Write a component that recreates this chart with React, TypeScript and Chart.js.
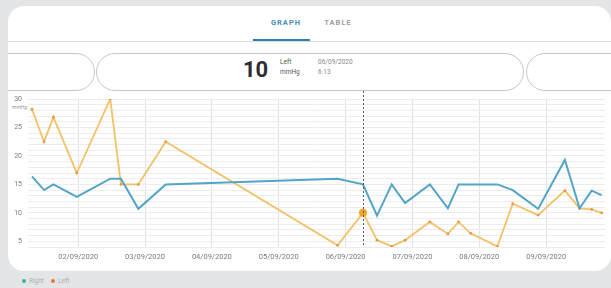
import React, { useEffect, useRef } from "react";
import { Chart, registerables } from "chart.js";

Chart.register(...registerables);

// Reading times, in days of September 2020
const readingDays = [
  1.31, 1.49, 1.63, 1.98, 2.48, 2.64, 2.9, 3.31, 5.88, 6.26, 6.47, 6.69,
  6.89, 7.26, 7.53, 7.69, 7.87, 8.27, 8.5, 8.88, 9.28, 9.5, 9.68, 9.83,
];
const rightValues = [
  16.4, 14, 15, 12.8, 16, 16, 10.7, 15, 16, 15, 9.5, 15, 11.7, 15, 10.8, 15,
  15, 15, 14, 10.7, 19.3, 10.8, 13.9, 13.1,
];
const leftValues = [
  28.2, 22.5, 26.8, 17, 30, 15, 15, 22.5, 4.3, 10, 5.2, 4.1, 5.2, 8.4, 6.3,
  8.4, 6.4, 4.1, 11.6, 9.6, 13.9, 10.8, 10.6, 10,
];
const tickDays = [2, 3, 4, 5, 6, 7, 8, 9];
const tickLabels = [
  "02/09/2020",
  "03/09/2020",
  "04/09/2020",
  "05/09/2020",
  "06/09/2020",
  "07/09/2020",
  "08/09/2020",
  "09/09/2020",
];
const selectedIndex = 9;

const FONT = "Roboto, 'Noto Sans', sans-serif";

const selectionLine = {
  id: "selectionLine",
  afterDatasetsDraw(chart: any) {
    const { ctx, chartArea, scales } = chart;
    const x = Math.round(scales.x.getPixelForValue(readingDays[selectedIndex])) + 0.5;
    ctx.save();
    ctx.strokeStyle = "#5a5a5a";
    ctx.lineWidth = 1;
    ctx.setLineDash([2, 2]);
    ctx.beginPath();
    ctx.moveTo(x, chartArea.top - 8);
    ctx.lineTo(x, chartArea.bottom);
    ctx.stroke();
    ctx.restore();
  },
};

function LineChart() {
  const ref = useRef<HTMLCanvasElement | null>(null);
  useEffect(() => {
    if (!ref.current) return;
    const chart = new Chart(ref.current, {
      type: "line",
      data: {
        datasets: [
          {
            label: "Right",
            data: readingDays.map((d, i) => ({ x: d, y: rightValues[i] })),
            borderColor: "#53a4c6",
            borderWidth: 2,
            pointRadius: 0,
            tension: 0,
          },
          {
            label: "Left",
            data: readingDays.map((d, i) => ({ x: d, y: leftValues[i] })),
            borderColor: "#f3c166",
            borderWidth: 1.8,
            pointRadius: (c: any) => (c.dataIndex === selectedIndex ? 4 : 1.4),
            pointBackgroundColor: (c: any) =>
              c.dataIndex === selectedIndex ? "#f5a524" : "#e49a48",
            pointBorderWidth: 0,
            tension: 0,
          },
        ],
      },
      options: {
        animation: false,
        responsive: false,
        maintainAspectRatio: false,
        layout: { padding: { top: 11, right: 6, left: 0, bottom: 0 } },
        plugins: { legend: { display: false }, tooltip: { enabled: false } },
        scales: {
          x: {
            type: "linear",
            min: 1.25,
            max: 9.88,
            afterBuildTicks: (s: any) => {
              s.ticks = tickDays.map((v) => ({ value: v }));
            },
            afterFit: (s: any) => {
              s.height = 16;
            },
            border: { display: false },
            grid: { color: "#e3e3e3", drawTicks: false, lineWidth: 1 },
            ticks: {
              padding: 6,
              maxRotation: 0,
              autoSkip: false,
              color: "#7a7a7a",
              font: { size: 7.5, family: FONT },
              callback: (v: any) => {
                const i = tickDays.indexOf(Number(v));
                return i >= 0 ? tickLabels[i] : "";
              },
            },
          },
          y: {
            min: 4,
            max: 30,
            afterFit: (s: any) => {
              s.width = 20;
            },
            border: { display: false },
            grid: { color: "#ececec", drawTicks: false, lineWidth: 1 },
            ticks: {
              stepSize: 1,
              autoSkip: false,
              padding: 6,
              color: "#7a7a7a",
              font: { size: 7, family: FONT },
              callback: (v: any) => (Number(v) % 5 === 0 ? String(v) : ""),
            },
          },
        },
      },
      plugins: [selectionLine],
    });
    return () => chart.destroy();
  }, []);
  return (
    <canvas
      ref={ref}
      width={603}
      height={175}
      style={{ position: "absolute", left: 8, top: 88, width: 603, height: 175 }}
    />
  );
}

const pill: React.CSSProperties = {
  position: "absolute",
  top: 47,
  height: 38,
  boxSizing: "border-box",
  border: "1.5px solid #c6c6c6",
  borderRadius: 19,
};

export default function App() {
  return (
    <div
      style={{
        position: "fixed",
        left: 0,
        top: 0,
        width: 611,
        height: 288,
        background: "#e4e5e7",
        overflow: "hidden",
        fontFamily: FONT,
      }}
    >
      <div
        style={{
          position: "absolute",
          left: 8,
          top: 6,
          width: 603,
          height: 265,
          background: "#ffffff",
          borderRadius: 16,
          overflow: "hidden",
        }}
      >
        <div
          style={{
            position: "absolute",
            left: 254,
            top: 12,
            width: 48,
            textAlign: "center",
            fontSize: 7.5,
            fontWeight: 700,
            letterSpacing: 1,
            color: "#4a8fb6",
          }}
        >
          GRAPH
        </div>
        <div
          style={{
            position: "absolute",
            left: 309,
            top: 12,
            width: 42,
            textAlign: "center",
            fontSize: 7.5,
            fontWeight: 700,
            letterSpacing: 1,
            color: "#a0a0a0",
          }}
        >
          TABLE
        </div>
        <div
          style={{ position: "absolute", left: 0, right: 0, top: 35, height: 1, background: "#dcdcdc" }}
        />
        <div
          style={{ position: "absolute", left: 245, width: 57, top: 33, height: 2, background: "#2f7fa6" }}
        />
        <div style={{ ...pill, left: -80, width: 167 }} />
        <div style={{ ...pill, left: 88, width: 428 }} />
        <div style={{ ...pill, left: 518, width: 200 }} />
        <div
          style={{
            position: "absolute",
            left: 235,
            top: 49,
            fontSize: 22,
            fontWeight: 700,
            color: "#2e2e2e",
            lineHeight: "30px",
          }}
        >
          10
        </div>
        <div style={{ position: "absolute", left: 272, top: 51, fontSize: 6.5, color: "#555", lineHeight: "10px" }}>
          Left
          <br />
          mmHg
        </div>
        <div style={{ position: "absolute", left: 310, top: 51, fontSize: 6.5, color: "#888", lineHeight: "10px" }}>
          06/09/2020
          <br />
          6.13
        </div>
      </div>
      <div style={{ position: "absolute", left: 12, top: 104, fontSize: 5, color: "#999" }}>mmHg</div>
      <LineChart />
      <div
        style={{
          position: "absolute",
          left: 22,
          top: 277,
          fontSize: 6.5,
          color: "#a8b0b4",
          display: "flex",
          alignItems: "center",
          gap: 3,
        }}
      >
        <span style={{ width: 4, height: 4, borderRadius: 2, background: "#2db7aa", display: "inline-block" }} />
        <span>Right</span>
        <span
          style={{ width: 4, height: 4, borderRadius: 2, background: "#e5763a", display: "inline-block", marginLeft: 4 }}
        />
        <span>Left</span>
      </div>
    </div>
  );
}
